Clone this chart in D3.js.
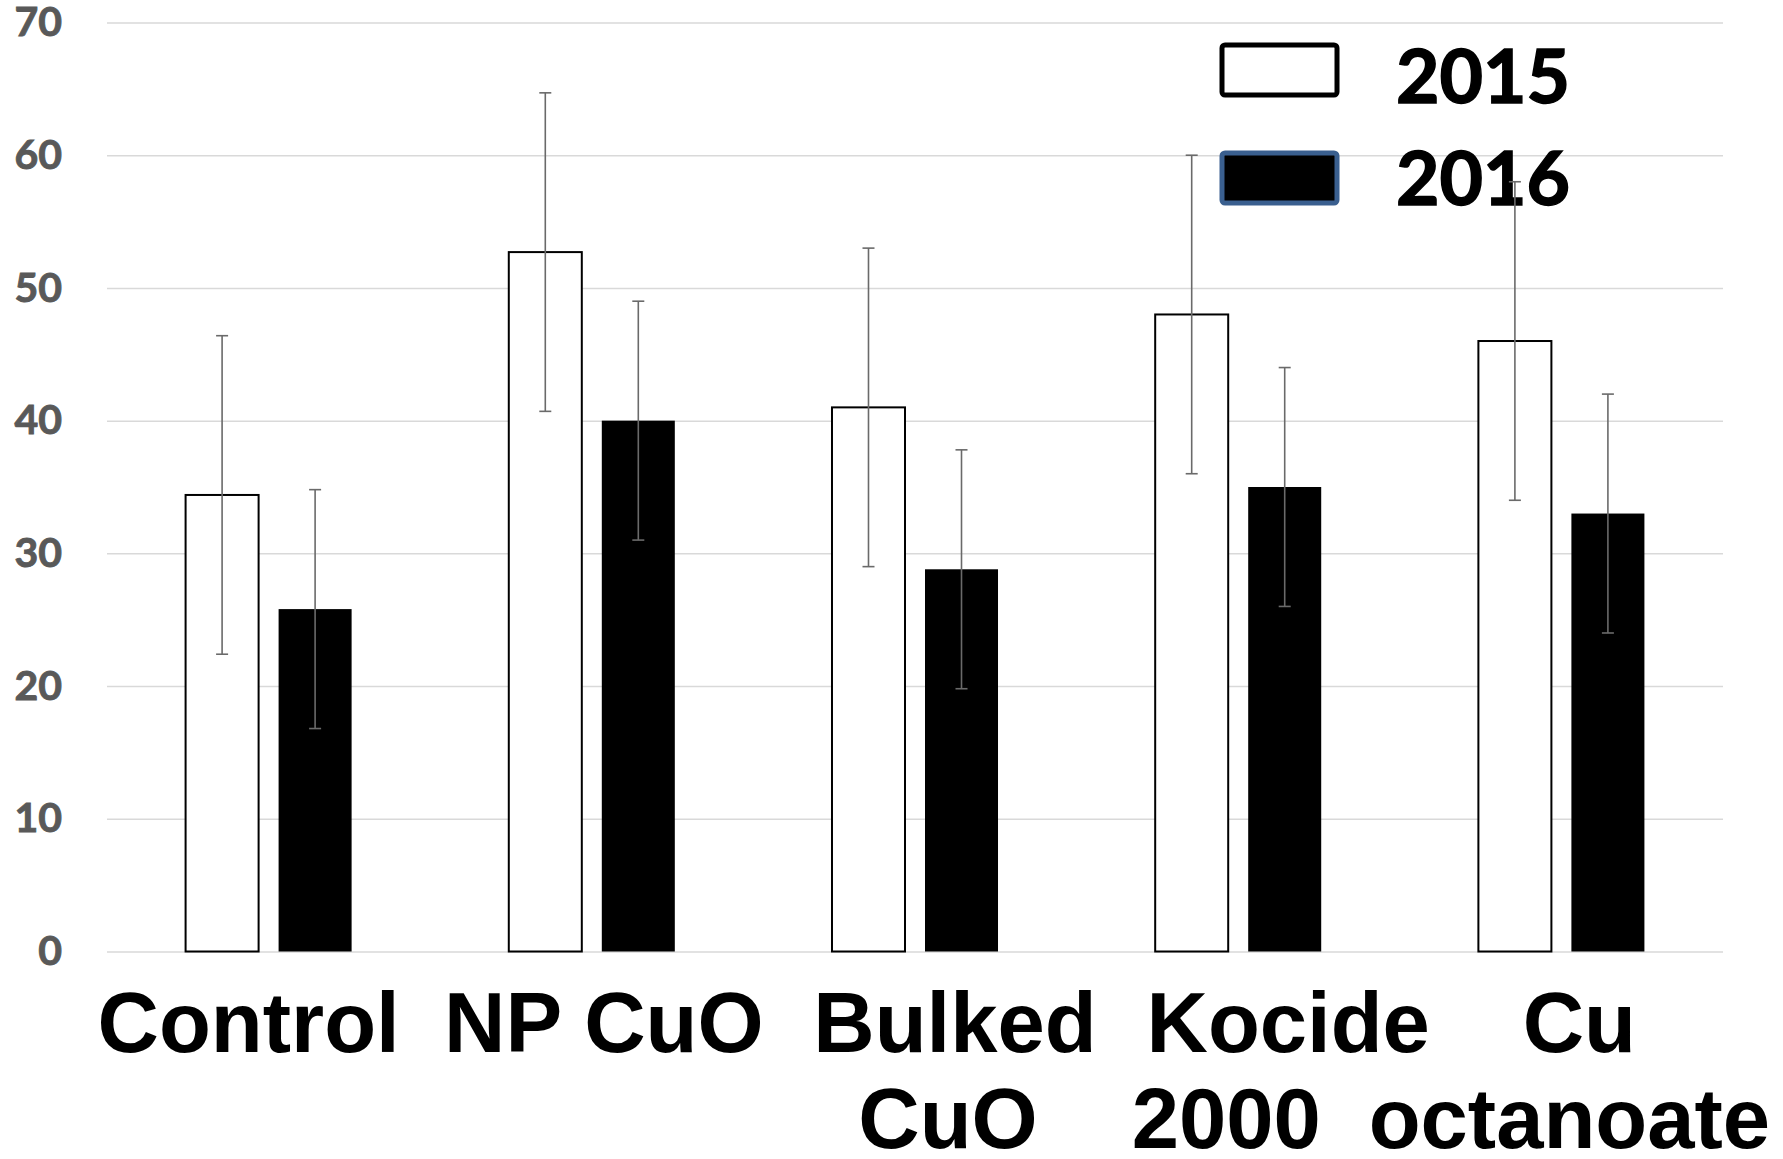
<!DOCTYPE html>
<html>
<head>
<meta charset="utf-8">
<script src="https://cdn.jsdelivr.net/npm/d3@7"></script>
<style>
  html, body { margin: 0; padding: 0; background: #ffffff; }
  svg { display: block; }
</style>
</head>
<body>
<svg id="chart" width="1783" height="1159"></svg>
<script>
// Treatments (each label split into its display lines)
const categories = ["Control", "NP CuO", "Bulked CuO", "Kocide 2000", "Cu octanoate"];
const categoryLines = [["Control"], ["NP CuO"], ["Bulked", "CuO"], ["Kocide", "2000"], ["Cu", "octanoate"]];
const years = ["2015", "2016"];

// Means per treatment, one array per year
const values2015 = [34.4, 52.7, 41.0, 48.0, 46.0];
const values2016 = [25.8, 40.0, 28.8, 35.0, 33.0];
// Error bar half-widths
const errors2015 = [12, 12, 12, 12, 12];
const errors2016 = [9, 9, 9, 9, 9];

const yTicks = [0, 10, 20, 30, 40, 50, 60, 70];

// Horizontal nudge (px) of each category label line from its band centre
const labelNudge = [[-20], [12], [40, 33], [50, -12], [18, 8]];

const svg = d3.select("#chart");
const plot = { left: 107, right: 1723, top: 22.5, bottom: 951.5 };

const y = d3.scaleLinear().domain([0, 70]).range([plot.bottom, plot.top]);
const x0 = d3.scaleBand().domain(categories).range([plot.left, plot.right]).padding(0);
const x1 = d3.scaleBand().domain(years).range([0, x0.bandwidth()])
  .paddingInner(0.215).paddingOuter(0.845);

// Gridlines + value labels
const yAxis = d3.axisLeft(y)
  .tickValues(yTicks)
  .tickSize(-(plot.right - plot.left))
  .tickPadding(45)
  .tickFormat(d3.format("d"));

const gy = svg.append("g")
  .attr("transform", `translate(${plot.left},0)`)
  .call(yAxis);
gy.select(".domain").remove();
gy.selectAll(".tick line").attr("stroke", "#d9d9d9").attr("stroke-width", 1.5);
gy.selectAll(".tick text")
  .attr("fill", "#595959")
  .attr("stroke", "#595959")
  .attr("stroke-width", 0.9)
  .style("font-family", "Lato, 'Open Sans', sans-serif")
  .style("font-weight", 700)
  .style("font-size", "41px");

// Legend
const legend = svg.append("g");
const legendItems = [
  { label: "2015", fill: "#ffffff", stroke: "#000000", y: 45, base: 103 },
  { label: "2016", fill: "#000000", stroke: "#3a5f8f", y: 153, base: 205 }
];
legendItems.forEach(it => {
  legend.append("rect")
    .attr("x", 1222).attr("y", it.y)
    .attr("width", 115).attr("height", 50)
    .attr("rx", 3)
    .attr("fill", it.fill)
    .attr("stroke", it.stroke)
    .attr("stroke-width", 5);
  legend.append("text")
    .attr("x", 1396).attr("y", it.base)
    .text(it.label)
    .attr("fill", "#000")
    .attr("stroke", "#000")
    .attr("stroke-width", 1.5)
    .style("font-family", "Lato, 'Open Sans', sans-serif")
    .style("font-weight", 700)
    .style("font-size", "75px");
});

// Bars
const rows = [];
categories.forEach((c, i) => {
  rows.push({ cat: c, year: "2015", v: values2015[i], e: errors2015[i] });
  rows.push({ cat: c, year: "2016", v: values2016[i], e: errors2016[i] });
});

const barStyle = {
  "2015": { fill: "#ffffff", stroke: "#000000", sw: 2 },
  "2016": { fill: "#000000", stroke: "none", sw: 0 }
};

svg.append("g").selectAll("rect")
  .data(rows)
  .join("rect")
  .attr("x", d => x0(d.cat) + x1(d.year))
  .attr("y", d => y(d.v))
  .attr("width", x1.bandwidth())
  .attr("height", d => y(0) - y(d.v))
  .attr("fill", d => barStyle[d.year].fill)
  .attr("stroke", d => barStyle[d.year].stroke)
  .attr("stroke-width", d => barStyle[d.year].sw);

// Error bars
const eb = svg.append("g")
  .attr("stroke", "#6a6a6a")
  .attr("stroke-width", 1.6)
  .attr("fill", "none");
const cap = 6;
rows.forEach(d => {
  const cx = x0(d.cat) + x1(d.year) + x1.bandwidth() / 2;
  const yt = y(d.v + d.e), yb = y(d.v - d.e);
  eb.append("line").attr("x1", cx).attr("x2", cx).attr("y1", yt).attr("y2", yb);
  eb.append("line").attr("x1", cx - cap).attr("x2", cx + cap).attr("y1", yt).attr("y2", yt);
  eb.append("line").attr("x1", cx - cap).attr("x2", cx + cap).attr("y1", yb).attr("y2", yb);
});

// Category labels
const catG = svg.append("g")
  .style("font-family", "'Liberation Sans', Arial, sans-serif")
  .style("font-weight", 700)
  .style("font-size", "85px")
  .attr("fill", "#000")
  .attr("text-anchor", "middle");
categories.forEach((c, i) => {
  const cx = x0(c) + x0.bandwidth() / 2;
  const t = catG.append("text").attr("x", cx).attr("y", 1052);
  categoryLines[i].forEach((ln, j) => {
    t.append("tspan")
      .attr("x", cx + labelNudge[i][j])
      .attr("y", 1052 + j * 96)
      .text(ln);
  });
});
</script>
</body>
</html>
